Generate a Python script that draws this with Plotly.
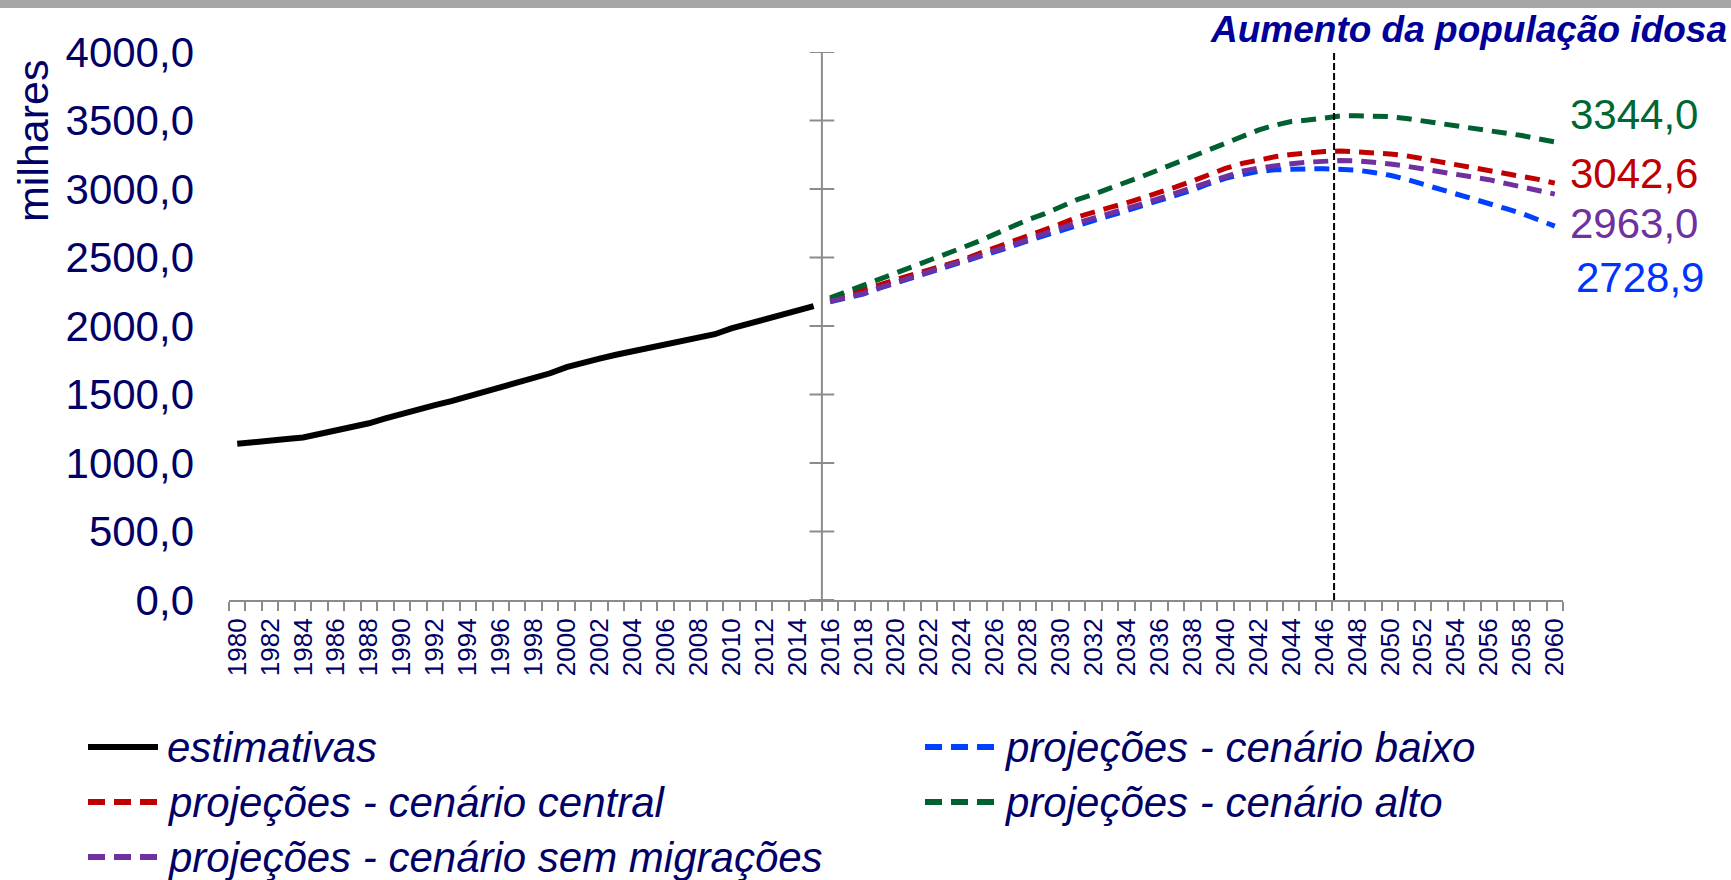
import plotly.graph_objects as go

# ---------------- data ----------------
EST_YEARS = list(range(1980, 2016))
EST_VALUES = [1140, 1155, 1167, 1175, 1186, 1210, 1235, 1262, 1290, 1325,
              1360, 1392, 1422, 1452, 1485, 1520, 1552, 1588, 1622, 1655,
              1700, 1735, 1762, 1790, 1815, 1838, 1862, 1888, 1915, 1940,
              1982, 2015, 2042, 2075, 2110, 2145]

PROJ_YEARS = list(range(2016, 2061))
BAIXO = [2177, 2201, 2233, 2276, 2314, 2350, 2384, 2421, 2457, 2499,
         2540, 2580, 2622, 2660, 2702, 2738, 2770, 2805, 2842, 2876,
         2913, 2952, 2992, 3038, 3078, 3105, 3128, 3140, 3146, 3147,
         3148, 3147, 3138, 3120, 3100, 3070, 3036, 3000, 2963, 2932,
         2895, 2858, 2822, 2775, 2728.9]
CENTRAL = [2195, 2228, 2262, 2300, 2338, 2374, 2410, 2445, 2480, 2527,
           2570, 2612, 2656, 2700, 2745, 2795, 2833, 2866, 2898, 2935,
           2975, 3015, 3058, 3105, 3150, 3186, 3212, 3235, 3252, 3264,
           3273, 3277, 3272, 3266, 3256, 3242, 3221, 3200, 3180, 3157,
           3138, 3118, 3099, 3070, 3042.6]
ALTO = [2205, 2250, 2297, 2340, 2382, 2428, 2472, 2522, 2570, 2618,
        2672, 2722, 2775, 2818, 2873, 2922, 2962, 3005, 3045, 3095,
        3142, 3190, 3236, 3290, 3338, 3387, 3430, 3466, 3492, 3503,
        3522, 3533, 3535, 3533, 3528, 3514, 3497, 3482, 3466, 3448,
        3430, 3411, 3390, 3366, 3344.0]
SEM_MIGR = [2180, 2205, 2238, 2280, 2318, 2355, 2390, 2428, 2465, 2508,
            2550, 2590, 2634, 2672, 2715, 2752, 2785, 2820, 2859, 2893,
            2931, 2970, 3012, 3055, 3095, 3130, 3152, 3172, 3185, 3196,
            3205, 3208, 3206, 3198, 3183, 3166, 3147, 3126, 3105, 3087,
            3068, 3041, 3017, 2990, 2963.0]

Y_TICKS = [0, 500, 1000, 1500, 2000, 2500, 3000, 3500, 4000]
Y_TICK_TEXT = ["0,0", "500,0", "1000,0", "1500,0", "2000,0", "2500,0",
               "3000,0", "3500,0", "4000,0"]
X_TICK_YEARS = list(range(1980, 2061, 2))
X_TICK_TEXT = [str(y) for y in X_TICK_YEARS]

NAMES = ["estimativas", "projeções - cenário baixo", "projeções - cenário central",
         "projeções - cenário alto", "projeções - cenário sem migrações"]
TITLE = "Aumento da população idosa"
Y_TITLE = "milhares"
AXIS_SPLIT = 2015.5     # where the vertical axis crosses
PEAK_MARK = 2046.6      # dashed vertical marker

# ---------------- styling ----------------
W, H = 1731, 880
L, R, T, B = 229, 168, 52, 280
PW, PH = W - L - R, H - T - B
FONT = "Liberation Sans, Arial, sans-serif"
NAVY = "#000066"
GRAY = "#8c8c8c"
COLORS = ["#000000", "#0040ff", "#c00000", "#006030", "#7030a0"]
LABEL_COLORS = ["#000000", "#0033ff", "#c00000", "#006633", "#7030a0"]
DASH = "15px,9px"


def px(xp):
    return (xp - L) / PW


def py(yp):
    return (H - B - yp) / PH


fig = go.Figure()
fig.add_trace(go.Scatter(x=EST_YEARS, y=EST_VALUES, mode="lines", name=NAMES[0],
                         line=dict(color=COLORS[0], width=6), showlegend=False))
for name, vals, col in zip(NAMES[1:], [BAIXO, CENTRAL, ALTO, SEM_MIGR], COLORS[1:]):
    fig.add_trace(go.Scatter(x=PROJ_YEARS, y=vals, mode="lines", name=name,
                             line=dict(color=col, width=5, dash=DASH), showlegend=False))

shapes = []
# vertical axis with cross ticks
shapes.append(dict(type="line", xref="x", yref="y", x0=AXIS_SPLIT, x1=AXIS_SPLIT,
                   y0=Y_TICKS[0], y1=Y_TICKS[-1], line=dict(color=GRAY, width=2)))
for yt in Y_TICKS:
    shapes.append(dict(type="line", xref="x", yref="y", x0=AXIS_SPLIT - 0.75,
                       x1=AXIS_SPLIT + 0.75, y0=yt, y1=yt, line=dict(color=GRAY, width=2)))
# peak marker
shapes.append(dict(type="line", xref="x", yref="y", x0=PEAK_MARK, x1=PEAK_MARK,
                   y0=Y_TICKS[0], y1=Y_TICKS[-1], line=dict(color="black", width=2, dash="7px,3px")))
# top gray band
shapes.append(dict(type="rect", xref="paper", yref="paper", x0=px(0), x1=px(W),
                   y0=py(8), y1=py(0), fillcolor="#a6a6a6", line=dict(width=0), layer="below"))

annotations = []
# custom legend
legend_pos = [(88, 747), (925, 747), (88, 802), (925, 802), (88, 857)]
for i, (name, (lx, ly)) in enumerate(zip(NAMES, legend_pos)):
    shapes.append(dict(type="line", xref="paper", yref="paper", x0=px(lx), x1=px(lx + 70),
                       y0=py(ly), y1=py(ly),
                       line=dict(color=COLORS[i], width=6,
                                 dash="solid" if i == 0 else "17px,9px")))
    annotations.append(dict(xref="paper", yref="paper", x=px(lx + 77), y=py(ly),
                            xanchor="left", yanchor="middle", showarrow=False,
                            text="<i>" + name + "</i>",
                            font=dict(family=FONT, size=42, color=NAVY)))

# end value labels
end_pos = [(1634, 114), (1634, 173), (1634, 223), (1640, 277)]
for vals, idx, (ex, ey) in zip([ALTO, CENTRAL, SEM_MIGR, BAIXO], [3, 2, 4, 1], end_pos):
    annotations.append(dict(xref="paper", yref="paper", x=px(ex), y=py(ey),
                            xanchor="center", yanchor="middle", showarrow=False,
                            text=f"{vals[-1]:.1f}".replace(".", ","),
                            font=dict(family=FONT, size=42, color=LABEL_COLORS[idx])))

# title
annotations.append(dict(xref="paper", yref="paper", x=px(1729), y=py(30),
                        xanchor="right", yanchor="middle", showarrow=False,
                        text="<b><i>" + TITLE + "</i></b>",
                        font=dict(family=FONT, size=37, color="#000099")))
# y title
annotations.append(dict(xref="paper", yref="paper", x=px(33), y=py(140),
                        xanchor="center", yanchor="middle", showarrow=False,
                        textangle=-90, text=Y_TITLE,
                        font=dict(family=FONT, size=43, color=NAVY)))

fig.update_layout(
    width=W, height=H,
    margin=dict(l=L, r=R, t=T, b=B, pad=0),
    paper_bgcolor="white", plot_bgcolor="white",
    shapes=shapes, annotations=annotations,
    showlegend=False,
    xaxis=dict(range=[1979.5, 2060.5], tickmode="array", tickvals=X_TICK_YEARS,
               ticktext=X_TICK_TEXT, tickangle=-90,
               tickfont=dict(family=FONT, size=26, color=NAVY),
               ticks="outside", ticklen=6, tickcolor="rgba(0,0,0,0)",
               showline=True, linecolor=GRAY, linewidth=2,
               showgrid=False, zeroline=False,
               minor=dict(ticks="outside", ticklen=9, tickwidth=2, tickcolor=GRAY,
                          tickmode="linear", tick0=1979.5, dtick=1, showgrid=False)),
    yaxis=dict(range=[0, 4000], tickmode="array", tickvals=Y_TICKS, ticktext=Y_TICK_TEXT,
               tickfont=dict(family=FONT, size=42, color=NAVY),
               ticks="", ticklabelstandoff=34,
               showline=False, showgrid=False, zeroline=False),
)

fig.write_html("out.html", config={"displayModeBar": False},
               post_script="document.body.style.margin='0';document.body.style.overflow='hidden';")
